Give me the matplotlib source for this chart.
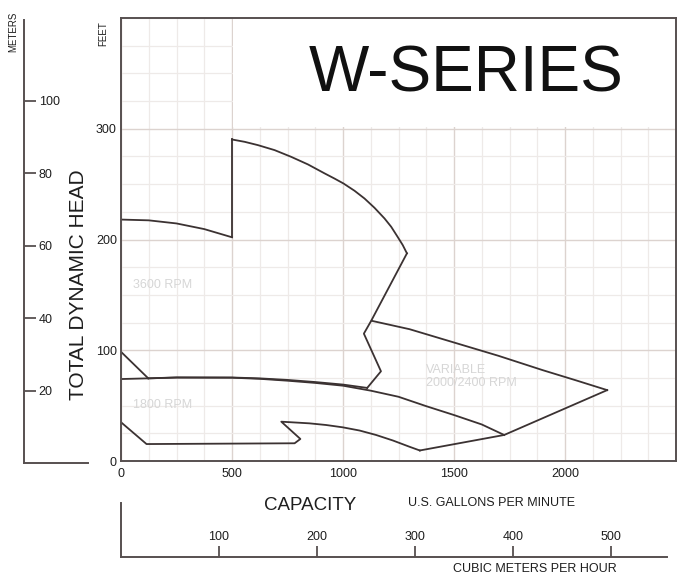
import matplotlib
matplotlib.use("Agg")
import matplotlib.pyplot as plt
from matplotlib.patches import Rectangle
from matplotlib.ticker import MultipleLocator

plt.rcParams['font.family'] = ['Liberation Sans', 'DejaVu Sans']

# ---- data (gpm, feet) ----
# 3600 RPM region
top_left_gpm = [0, 125, 250, 375, 500]
top_left_ft = [218, 217.3, 214.5, 209.4, 202]
step_gpm = [500, 500]
step_ft = [202, 290.3]
arc_gpm = [500, 557, 617, 692, 767, 842, 917, 962, 1002, 1052, 1097,
           1142, 1187, 1217, 1246, 1269, 1288]
arc_ft = [290.3, 288.2, 285.2, 280.7, 274.6, 267.8, 259.7, 255, 250.6, 244,
          237, 228.6, 219, 211.5, 202.4, 195, 187.5]
zigzag_gpm = [1288, 1127, 1094, 1171, 1109]
zigzag_ft = [187.5, 126.6, 115, 81, 66]
curve_a_gpm = [123, 250, 500, 625, 750, 875, 1000, 1109]
curve_a_ft = [74.6, 75.5, 75.4, 74.6, 73.2, 71.3, 69, 66]
diag_gpm = [0, 123]
diag_ft = [98.6, 74.6]

# boundary between 3600 / variable and 1800 RPM
curve_b_gpm = [0, 250, 500, 625, 750, 875, 1000, 1125, 1250, 1375, 1500,
               1625, 1726]
curve_b_ft = [74, 75.3, 75.2, 74.2, 72.5, 70.5, 68, 63.5, 58, 49.5, 41.5,
              33, 23.5]

# variable speed region
var_top_gpm = [1129, 1300, 1500, 1700, 1900, 2050, 2190]
var_top_ft = [126.6, 119, 107, 95, 82, 72.8, 64]
var_tip_gpm = [2190, 1726, 1346]
var_tip_ft = [64, 23.5, 9.5]

# 1800 RPM lower boundary
low_gpm = [1346, 1299, 1225, 1149, 1075, 999, 924, 849, 722, 808, 782, 115, 0]
low_ft = [9.5, 12.9, 18.5, 23.5, 27.5, 30.4, 32.5, 34, 35.5, 19.9, 16, 15.3, 35]

feet_ticks = [0, 100, 200, 300]
gpm_ticks = [0, 500, 1000, 1500, 2000]
meter_ticks = [20, 40, 60, 80, 100]
m3h_ticks = [100, 200, 300, 400, 500]

W, H = 678, 581
fig = plt.figure(figsize=(W / 100, H / 100), dpi=100)


def box(x0, y0, x1, y1):
    # pixel box -> figure fraction
    return [x0 / W, 1 - y1 / H, (x1 - x0) / W, (y1 - y0) / H]


line_c = '#3b3232'
spine_c = '#575050'
text_c = '#1e1e1e'

# ---- main chart ----
ax = fig.add_axes(box(121, 18, 676, 461))
ax.set_xlim(0, 2500)
ax.set_ylim(0, 400)
ax.xaxis.set_major_locator(MultipleLocator(500))
ax.xaxis.set_minor_locator(MultipleLocator(125))
ax.yaxis.set_major_locator(MultipleLocator(100))
ax.yaxis.set_minor_locator(MultipleLocator(25))
ax.set_axisbelow(True)
ax.grid(which='major', color='#dcd3cf', lw=1.0)
ax.grid(which='minor', color='#eeeae8', lw=0.9)
ax.set_xticks(gpm_ticks)
ax.set_yticks(feet_ticks)
ax.tick_params(which='both', length=0, labelsize=9, colors=text_c)
ax.tick_params(axis='x', pad=5)
ax.tick_params(axis='y', pad=3)
for s in ax.spines.values():
    s.set_color(spine_c)
    s.set_linewidth(1.4)

# blank title area
ax.add_patch(Rectangle((506, 302), 2000, 100, facecolor='white',
                       edgecolor='none', zorder=1))
ax.text(1555, 349, 'W-SERIES', fontsize=46, ha='center', va='center',
        color='#111111', zorder=3)

kw = dict(color=line_c, lw=1.3, zorder=2, solid_joinstyle='round')
for gx, fy in [(top_left_gpm, top_left_ft), (step_gpm, step_ft),
               (arc_gpm, arc_ft), (zigzag_gpm, zigzag_ft),
               (curve_a_gpm, curve_a_ft), (diag_gpm, diag_ft),
               (curve_b_gpm, curve_b_ft), (var_top_gpm, var_top_ft),
               (var_tip_gpm, var_tip_ft), (low_gpm, low_ft)]:
    ax.plot(gx, fy, **kw)

faint = '#d6d6d6'
ax.text(185, 159, '3600 RPM', fontsize=9, color=faint, ha='center', va='center')
ax.text(185, 50.5, '1800 RPM', fontsize=9, color=faint, ha='center', va='center')
ax.text(1375, 76, 'VARIABLE\n2000/2400 RPM', fontsize=9, color=faint,
        ha='left', va='center', linespacing=1.1)

# ---- meters scale ----
axm = fig.add_axes(box(24, 20, 88, 463))
axm.set_ylim(0, (463 - 20) / 3.62)
axm.set_xlim(0, 1)
axm.patch.set_alpha(0)
axm.set_xticks([])
axm.spines['left'].set_visible(False)
axm.spines['top'].set_visible(False)
axm.spines['right'].set_position(('axes', 0))
for s in ('right', 'bottom'):
    axm.spines[s].set_color(spine_c)
    axm.spines[s].set_linewidth(1.4)
axm.yaxis.tick_right()
axm.set_yticks(meter_ticks)
axm.tick_params(axis='y', direction='out', length=8.5, width=1.3,
                color=spine_c, labelsize=9, labelcolor=text_c, pad=2)

# ---- cubic meters per hour scale ----
axc = fig.add_axes(box(121, 503, 667, 556.7))
axc.set_xlim(0, 546 / 0.2225 / 4.4029)
axc.set_ylim(0, 1)
axc.patch.set_alpha(0)
axc.set_yticks([])
axc.spines['right'].set_visible(False)
axc.spines['bottom'].set_visible(False)
axc.spines['top'].set_position(('axes', 0))
for s in ('left', 'top'):
    axc.spines[s].set_color(spine_c)
    axc.spines[s].set_linewidth(1.4)
axc.xaxis.tick_top()
axc.set_xticks(m3h_ticks)
axc.tick_params(axis='x', direction='out', length=8, width=1.3,
                color=spine_c, labelsize=9, labelcolor=text_c, pad=2)

# ---- axis titles ----
fig.text(78 / W, 1 - 285 / H, 'TOTAL DYNAMIC HEAD', rotation=90, fontsize=15,
         ha='center', va='center', color=text_c)
fig.text(13 / W, 1 - 32 / H, 'METERS', rotation=90, fontsize=7,
         ha='center', va='center', color=text_c)
fig.text(103 / W, 1 - 34 / H, 'FEET', rotation=90, fontsize=7,
         ha='center', va='center', color=text_c)
fig.text(310 / W, 1 - 506 / H, 'CAPACITY', fontsize=13.5,
         ha='center', va='center', color=text_c)
fig.text(492 / W, 1 - 503 / H, 'U.S. GALLONS PER MINUTE', fontsize=9,
         ha='center', va='center', color=text_c)
fig.text(535 / W, 1 - 569 / H, 'CUBIC METERS PER HOUR', fontsize=9,
         ha='center', va='center', color=text_c)

fig.savefig('out.png', dpi=100)
